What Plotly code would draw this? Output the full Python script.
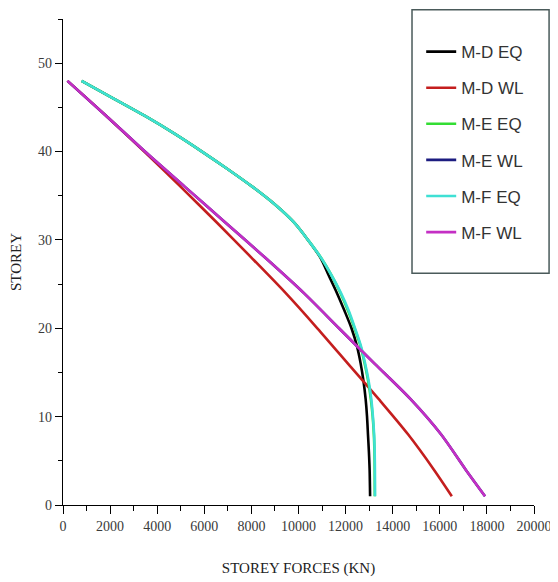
import plotly.graph_objects as go

# storey levels
storeys = [48, 46, 44, 42, 40, 38, 36, 34, 32, 30, 28, 26, 24, 22, 20, 18, 16, 14, 12, 10, 8, 6, 4, 1]

md_eq = [790, 2150, 3500, 4750, 5900, 7000, 8050, 9000, 9800, 10400, 10930, 11280, 11630,
         11950, 12250, 12480, 12640, 12760, 12850, 12910, 12950, 12990, 13020, 13040]
me_eq = [790, 2150, 3500, 4750, 5900, 7000, 8050, 9000, 9800, 10400, 10950, 11400, 11780,
         12100, 12380, 12630, 12810, 12960, 13070, 13150, 13200, 13225, 13235, 13240]
mf_eq = [790, 2150, 3500, 4750, 5900, 7000, 8050, 9000, 9800, 10400, 10950, 11400, 11800,
         12130, 12400, 12650, 12830, 12980, 13090, 13160, 13210, 13235, 13245, 13250]

wl_storeys = [48, 44, 40, 36, 32, 28, 24, 20, 16, 12, 8, 4, 1]
md_wl = [190, 1850, 3450, 5000, 6520, 8000, 9450, 10800, 12100, 13400, 14650, 15750, 16510]
me_wl = [190, 1850, 3480, 5180, 6880, 8580, 10220, 11720, 13230, 14750, 16050, 17100, 17920]
mf_wl = [190, 1850, 3480, 5180, 6880, 8580, 10220, 11720, 13230, 14750, 16050, 17100, 17920]

names = ["M-D EQ", "M-D WL", "M-E EQ", "M-E WL", "M-F EQ", "M-F WL"]
colors = ["#000000", "#c41e1e", "#33dd33", "#1c1c80", "#3fe0d4", "#c42fc4"]
series = [(md_eq, storeys), (md_wl, wl_storeys), (me_eq, storeys),
          (me_wl, wl_storeys), (mf_eq, storeys), (mf_wl, wl_storeys)]

x_ticks = [0, 2000, 4000, 6000, 8000, 10000, 12000, 14000, 16000, 18000, 20000]
y_ticks = [0, 10, 20, 30, 40, 50]

fig = go.Figure()
for i, (name, col, (xs, ys)) in enumerate(zip(names, colors, series)):
    fig.add_trace(go.Scatter(
        x=xs, y=ys, mode="lines", name=name, legendgroup=f"g{i}",
        line=dict(color=col, width=2.6, shape="spline", smoothing=0.8),
    ))

tick_font = dict(family="Liberation Serif, Times New Roman, serif", size=14, color="#3a3a3a")
title_font = dict(family="Liberation Serif, Times New Roman, serif", size=15, color="#222222")

# page body has an 8px margin, so the figure is sized/offset to compensate
fig.update_layout(
    width=550, height=574,
    margin=dict(l=55, r=24, t=11, b=77, autoexpand=False),
    paper_bgcolor="white", plot_bgcolor="white",
    showlegend=True,
    legend=dict(
        x=0.7605, y=0.969, xanchor="left", yanchor="top",
        bgcolor="rgba(0,0,0,0)", borderwidth=0,
        traceorder="grouped", tracegroupgap=11,
        font=dict(family="Liberation Sans, Arial, sans-serif", size=17, color="#333333"),
    ),
    shapes=[dict(type="rect", xref="paper", yref="paper",
                 x0=0.741, x1=1.032, y0=0.477, y1=1.019,
                 line=dict(color="#4a5a5a", width=1.5), fillcolor="rgba(0,0,0,0)", layer="below")],
    xaxis=dict(
        range=[0, 20000], tickvals=x_ticks, ticktext=[str(v) for v in x_ticks],
        showline=True, linecolor="black", linewidth=1.3, showgrid=False, zeroline=False,
        ticks="outside", ticklen=8, tickcolor="black", tickwidth=1.2,
        minor=dict(ticks="outside", ticklen=5, dtick=1000, tickcolor="black", tickwidth=1.2),
        tickfont=tick_font, automargin=False,
        title=dict(text="STOREY FORCES (KN)", font=title_font, standoff=29),
    ),
    yaxis=dict(
        range=[0, 55], tickvals=y_ticks, ticktext=[str(v) for v in y_ticks],
        showline=True, linecolor="black", linewidth=1.3, showgrid=False, zeroline=False,
        ticks="outside", ticklen=7, tickcolor="black", tickwidth=1.2,
        minor=dict(ticks="outside", ticklen=4, dtick=5, tickcolor="black", tickwidth=1.2),
        tickfont=tick_font, automargin=False,
        title=dict(text="STOREY", font=title_font, standoff=16),
    ),
)

fig.write_html("out.html")
